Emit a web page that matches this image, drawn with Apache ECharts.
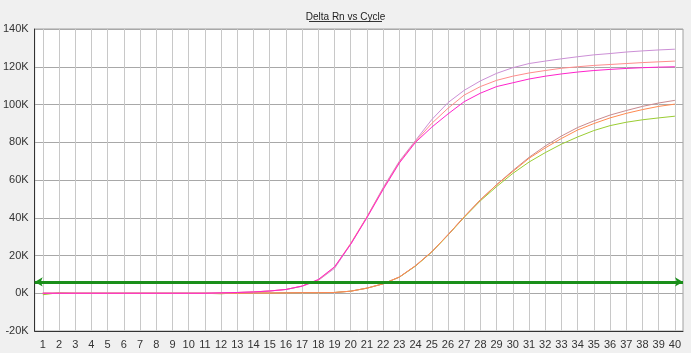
<!DOCTYPE html>
<html>
<head>
<meta charset="utf-8">
<script src="https://cdn.jsdelivr.net/npm/echarts@6/dist/echarts.min.js"></script>
<style>
  html, body { margin: 0; padding: 0; background: #f0f0f0; }
  #chart { width: 691px; height: 353px; }
</style>
</head>
<body>
<div id="chart"></div>
<script>
// cycles on the x axis
const cycles = [1, 2, 3, 4, 5, 6, 7, 8, 9, 10, 11, 12, 13, 14, 15, 16, 17, 18, 19, 20,
  21, 22, 23, 24, 25, 26, 27, 28, 29, 30, 31, 32, 33, 34, 35, 36, 37, 38, 39, 40];

const yTicks = [-20000, 0, 20000, 40000, 60000, 80000, 100000, 120000, 140000];
const threshold = 6000;

// early wells (Ct ~ 17.5)
const purpleA = [0, 0, 0, 0, 0, 0, 0, 0, 0, 0, 0, 200, 400, 700, 1200, 2000, 3700, 6800, 13200, 26000,
  40500, 56000, 70000, 81000, 92000, 101000, 107500, 112500, 116500, 119500,
  121700, 123000, 124200, 125300, 126300, 127000, 127800, 128400, 128900, 129300];
const salmonA = [0, 0, 0, 0, 0, 0, 0, 0, 0, 0, 0, 200, 400, 700, 1200, 2000, 3800, 7000, 13800, 26500,
  40500, 55500, 69500, 80500, 90000, 98000, 105000, 109500, 112800, 115000,
  116700, 118000, 119200, 120000, 120700, 121200, 121700, 122200, 122600, 123000];
const magentaA = [0, 0, 0, 0, 0, 0, 0, 0, 0, 0, 0, 200, 400, 700, 1200, 2000, 3800, 7300, 14000, 26000,
  40000, 55000, 69000, 80000, 88000, 95000, 101500, 106000, 109500, 111500,
  113500, 115000, 116200, 117200, 118000, 118600, 119100, 119500, 119800, 120000];

// late wells (Ct ~ 22.4)
const brownB = [0, 0, 0, 0, 0, 0, 0, 0, 0, 0, 0, 0, 0, 100, 100, 200, 300, 300, 400, 1100,
  2700, 5000, 8600, 14600, 22000, 31000, 40500, 49500, 57500, 65000,
  72000, 78000, 83300, 87800, 91300, 94400, 96800, 99000, 100800, 102200];
const orangeB = [0, 0, 0, 0, 0, 0, 0, 0, 0, 0, 0, 0, 0, 100, 100, 200, 300, 300, 400, 1100,
  2700, 5000, 8600, 14600, 22000, 31000, 40500, 49500, 57500, 64500,
  71500, 77000, 82000, 86500, 89900, 92900, 95300, 97300, 99000, 100200];
const greenB = [-800, 300, 0, 0, 0, 0, 0, 0, 0, 0, 0, -300, 300, 200, 100, 200, 300, 300, 400, 1100,
  2700, 5000, 8500, 14400, 21800, 30800, 40200, 49000, 56500, 63500,
  69500, 74500, 79000, 82800, 86200, 88800, 90600, 91900, 92900, 93800];

// drawing order: first is at the bottom
const wells = [
  { name: 'B3', data: greenB, color: '#9acd32' },
  { name: 'B1', data: brownB, color: '#c98a8f' },
  { name: 'B2', data: orangeB, color: '#ff8a50' },
  { name: 'A1', data: purpleA, color: '#cc8fd6' },
  { name: 'A2', data: salmonA, color: '#ff8c8c' },
  { name: 'A3', data: magentaA, color: '#ff22cc' }
];

const chart = echarts.init(document.getElementById('chart'));

const series = wells.map(w => ({
  name: w.name,
  type: 'line',
  data: w.data.map((v, i) => [cycles[i], v]),
  showSymbol: false,
  lineStyle: { color: w.color, width: 1 },
  itemStyle: { color: w.color },
  animation: false
}));

// threshold line with arrows on both ends
series.push({
  type: 'line',
  data: [],
  animation: false,
  markLine: {
    silent: true,
    symbol: ['arrow', 'arrow'],
    symbolSize: [7, 8],
    label: { show: false },
    lineStyle: { color: '#1a8f1a', width: 3, type: 'solid' },
    data: [[{ coord: [0.5, threshold] }, { coord: [40.5, threshold] }]]
  }
});

chart.setOption({
  backgroundColor: '#f0f0f0',
  animation: false,
  title: {
    text: 'Delta Rn vs Cycle',
    left: 'center',
    top: 7,
    textStyle: { fontSize: 10, fontWeight: 'normal', color: '#222', fontFamily: 'Liberation Sans, Arial' }
  },
  graphic: [{
    type: 'rect',
    left: 'center',
    top: 21,
    shape: { width: 73, height: 1 },
    style: { fill: '#333' }
  }],
  grid: {
    left: 31, right: 8, top: 29, bottom: 22,
    show: true,
    backgroundColor: '#ffffff',
    borderColor: '#a0a0a0',
    borderWidth: 1
  },
  xAxis: {
    type: 'value',
    min: 0.5,
    max: 40.5,
    axisLine: { show: true, onZero: false, lineStyle: { color: '#333', width: 1 } },
    axisTick: { show: false, customValues: cycles },
    axisLabel: { customValues: cycles, color: '#333', fontSize: 11, margin: 8, fontFamily: 'Liberation Sans, Arial' },
    splitLine: { show: true, lineStyle: { color: '#c8c8c8', width: 1 } }
  },
  yAxis: {
    type: 'value',
    min: yTicks[0],
    max: yTicks[yTicks.length - 1],
    interval: 20000,
    axisLine: { show: true, lineStyle: { color: '#333', width: 1 } },
    axisTick: { show: false },
    axisLabel: {
      color: '#333', fontSize: 11, margin: 6, fontFamily: 'Liberation Sans, Arial',
      formatter: v => (v / 1000) + 'K'
    },
    splitLine: { show: true, lineStyle: { color: '#a8a8a8', width: 1 } }
  },
  series: series
});
</script>
</body>
</html>
